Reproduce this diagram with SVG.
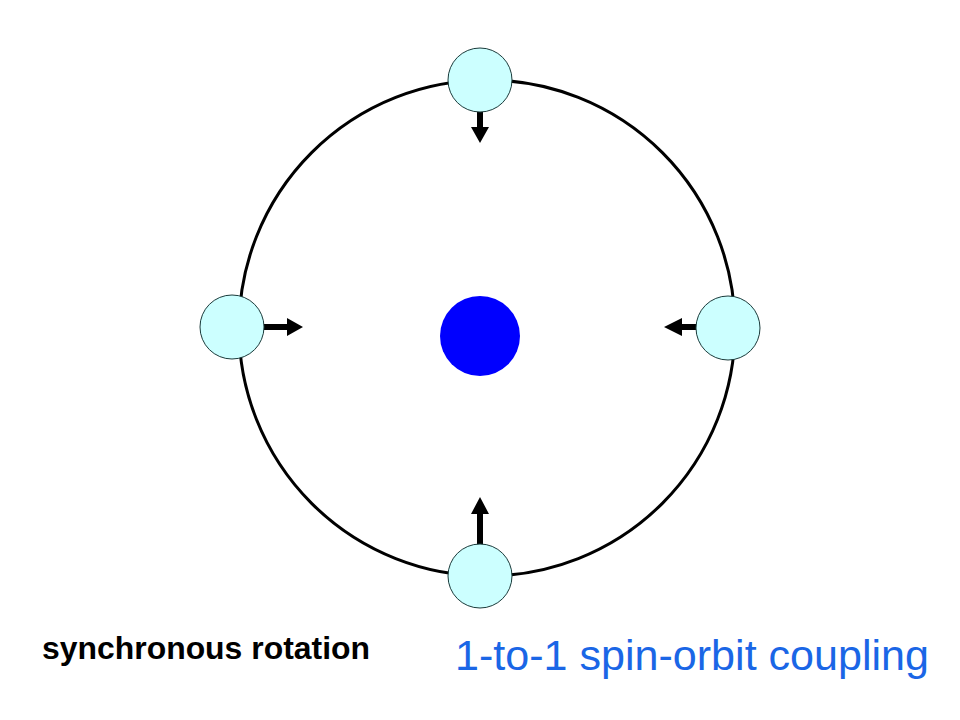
<svg xmlns="http://www.w3.org/2000/svg" width="960" height="720" viewBox="0 0 960 720">
<style>
.orbit{fill:none;stroke:#000;stroke-width:3}
.moon{fill:#ccffff;stroke:#1a3a3a;stroke-width:1}
.arrow{fill:#000}
.label1{font-family:"Liberation Sans",Arial,sans-serif;font-weight:bold;font-size:23px;fill:#000}
.label2{font-family:"Liberation Sans",Arial,sans-serif;font-size:34px;fill:#1a66e6}
</style>
<rect width="960" height="720" fill="#fff"/>
<g id="connectors">
<circle class="orbit" cx="487" cy="328" r="248"/>
<polygon class="arrow" points="477,112 483,112 483,127 489,127 480,143 471,127 477,127"/>
<polygon class="arrow" points="264,324 287,324 287,318 303,327 287,336 287,330 264,330"/>
<polygon class="arrow" points="696,324 682,324 682,318 664,327 682,336 682,330 696,330"/>
<polygon class="arrow" points="477,545 477,514 471,514 480,497 489,514 483,514 483,545"/>
</g>
<g id="planet"><circle cx="480" cy="336" r="40" fill="#0000ff"/></g>
<g id="moon-top"><circle class="moon" cx="480" cy="80" r="32"/></g>
<g id="moon-left"><circle class="moon" cx="232" cy="327" r="32"/></g>
<g id="moon-right"><circle class="moon" cx="728" cy="328" r="32"/></g>
<g id="moon-bottom"><circle class="moon" cx="480" cy="576" r="32"/></g>
<g id="labels">
<text class="label1" transform="translate(42,659) scale(1,1.35)" x="0" y="0" textLength="328" lengthAdjust="spacingAndGlyphs">synchronous rotation</text>
<text class="label2" transform="translate(455,670) scale(1,1.24)" x="0" y="0" textLength="474" lengthAdjust="spacingAndGlyphs">1-to-1 spin-orbit coupling</text>
</g>
</svg>
